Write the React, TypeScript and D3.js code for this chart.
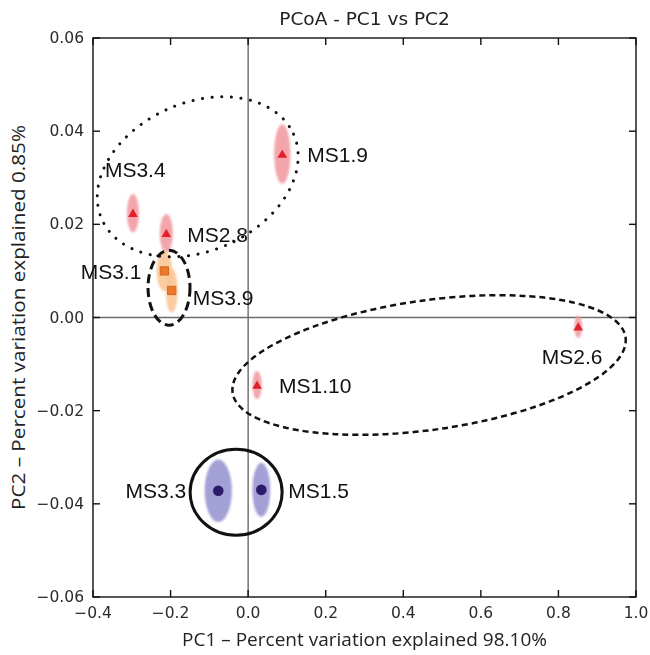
import * as d3 from "d3";

// sample scores on the first two principal coordinates
const samples = ["MS1.9", "MS3.4", "MS2.8", "MS3.1", "MS3.9", "MS2.6", "MS1.10", "MS3.3", "MS1.5"];
const pc1 = [0.088, -0.297, -0.211, -0.216, -0.197, 0.851, 0.023, -0.077, 0.034];
const pc2 = [0.0351, 0.0224, 0.0181, 0.01, 0.0058, -0.002, -0.0145, -0.0372, -0.037];
// marker group: 0 = triangle, 1 = square, 2 = circle
const groups = [0, 0, 0, 1, 1, 0, 0, 2, 2];
// jackknife spread along each axis
const spread1 = [0.021, 0.0155, 0.017, 0.02, 0.0155, 0.01, 0.012, 0.035, 0.023];
const spread2 = [0.0064, 0.0041, 0.0041, 0.0043, 0.0047, 0.0024, 0.003, 0.0067, 0.0058];

// hand drawn cluster outlines (centre in PC units, semi-axes in PC1 / PC2 units, tilt deg)
const outlineC1 = [-0.13, -0.204, 0.4665, -0.031];
const outlineC2 = [0.0302, 0.0064, -0.0102, -0.0375];
const outlineA = [0.2704, 0.0541, 0.5116, 0.1186];
const outlineB = [0.0159, 0.00805, 0.0139, 0.00923];
const outlineTilt = [-24, 0, -8, 0];

const xDomain = [-0.4, 1.0];
const yDomain = [-0.06, 0.06];

const title = "PCoA - PC1 vs PC2";
const xTitle = "PC1 \u2013 Percent variation explained 98.10%";
const yTitle = "PC2 \u2013 Percent variation explained 0.85%";

export default function App() {
  const width = 650;
  const height = 655;
  const left = 93, right = 636, top = 38, bottom = 597;

  const x = d3.scaleLinear().domain(xDomain).range([left, right]);
  const y = d3.scaleLinear().domain(yDomain).range([bottom, top]);
  const kx = (right - left) / (xDomain[1] - xDomain[0]);
  const ky = (bottom - top) / (yDomain[1] - yDomain[0]);

  const xTicks = x.ticks(7);
  const yTicks = y.ticks(6);
  const fx = d3.format(".1f");
  const fy = d3.format(".2f");

  const ellFill = ["#f19ca3", "#f8c594", "#9896d0"];
  const markFill = ["#e2202c", "#ec7a2c", "#2c1b6c"];
  const symbols = [
    d3.symbol(d3.symbolTriangle, 40)(),
    d3.symbol(d3.symbolSquare, 68)(),
    d3.symbol(d3.symbolCircle, 88)(),
  ];

  const outlineStyle = [
    { dash: "0.1 9.5", w: 3, cap: "round" },
    { dash: "9 5", w: 3, cap: "butt" },
    { dash: "6 4", w: 2.5, cap: "butt" },
    { dash: "none", w: 3, cap: "butt" },
  ];

  // label placement: dx, dy (px) and anchor
  const labelPos: Record<string, [number, number, string]> = {
    "MS1.9": [25, 1, "start"],
    "MS3.4": [-28, -44, "start"],
    "MS2.8": [21, 1, "start"],
    "MS3.1": [-23, 1, "end"],
    "MS3.9": [21, 7, "start"],
    "MS2.6": [-6, 30, "middle"],
    "MS1.10": [22, 0, "start"],
    "MS3.3": [-32, 0, "end"],
    "MS1.5": [27, 1, "start"],
  };

  const tickFont = { fontFamily: "DejaVu Sans", fontSize: 15.5, fill: "#2a2a2a" };

  return (
    <div style={{ position: "absolute", left: 0, top: 0 }}>
      <svg width={width} height={height} style={{ display: "block", background: "#fff" }}>
        <defs>
          <filter id="soft" x="-50%" y="-50%" width="200%" height="200%">
            <feGaussianBlur stdDeviation="1.2" />
          </filter>
        </defs>

        {/* zero lines */}
        <line x1={x(0)} x2={x(0)} y1={top} y2={bottom} stroke="#6b6b6b" strokeWidth={1.4} />
        <line x1={left} x2={right} y1={y(0)} y2={y(0)} stroke="#6b6b6b" strokeWidth={1.4} />

        {/* spread ellipses */}
        <g filter="url(#soft)">
          {samples.map((s, i) => (
            <ellipse
              key={s}
              cx={x(pc1[i])}
              cy={y(pc2[i])}
              rx={spread1[i] * kx}
              ry={spread2[i] * ky}
              fill={ellFill[groups[i]]}
              opacity={0.9}
            />
          ))}
        </g>

        {/* markers */}
        {samples.map((s, i) => (
          <path
            key={s}
            d={symbols[groups[i]] as string}
            transform={`translate(${x(pc1[i])},${y(pc2[i]) + (groups[i] === 0 ? 1 : 0)})`}
            fill={markFill[groups[i]]}
            stroke={groups[i] === 1 ? "#d8661c" : "none"}
          />
        ))}

        {/* cluster outlines */}
        {outlineC1.map((c, i) => (
          <ellipse
            key={i}
            cx={0}
            cy={0}
            rx={outlineA[i] * kx}
            ry={outlineB[i] * ky}
            transform={`translate(${x(c)},${y(outlineC2[i])}) rotate(${outlineTilt[i]})`}
            fill="none"
            stroke="#111"
            strokeWidth={outlineStyle[i].w}
            strokeDasharray={outlineStyle[i].dash}
            strokeLinecap={outlineStyle[i].cap as any}
          />
        ))}

        {/* sample labels */}
        {samples.map((s, i) => {
          const [dx, dy, anchor] = labelPos[s];
          return (
            <text
              key={s}
              x={x(pc1[i]) + dx}
              y={y(pc2[i]) + dy}
              textAnchor={anchor as any}
              dominantBaseline="central"
              fontFamily="Liberation Sans, Arial, sans-serif"
              fontSize={21}
              fill="#111"
            >
              {s}
            </text>
          );
        })}

        {/* frame and inward ticks */}
        <rect x={left} y={top} width={right - left} height={bottom - top} fill="none" stroke="#111" strokeWidth={1.4} />
        {xTicks.map((t) => (
          <g key={"x" + t}>
            <line x1={x(t)} x2={x(t)} y1={bottom} y2={bottom - 7} stroke="#111" strokeWidth={1.4} />
            <line x1={x(t)} x2={x(t)} y1={top} y2={top + 7} stroke="#111" strokeWidth={1.4} />
            <text x={x(t)} y={bottom + 21} textAnchor="middle" {...tickFont}>
              {fx(t)}
            </text>
          </g>
        ))}
        {yTicks.map((t) => (
          <g key={"y" + t}>
            <line x1={left} x2={left + 7} y1={y(t)} y2={y(t)} stroke="#111" strokeWidth={1.4} />
            <line x1={right} x2={right - 7} y1={y(t)} y2={y(t)} stroke="#111" strokeWidth={1.4} />
            <text x={left - 9} y={y(t)} textAnchor="end" dominantBaseline="central" {...tickFont}>
              {fy(t)}
            </text>
          </g>
        ))}

        {/* titles */}
        <text x={(left + right) / 2} y={25} textAnchor="middle" fontFamily="DejaVu Sans" fontSize={18.5} fill="#222">
          {title}
        </text>
        <text
          x={(left + right) / 2}
          y={646}
          textAnchor="middle"
          fontFamily="Open Sans"
          fontSize={18}
          fontWeight={500}
          fill="#222"
          textLength={365}
          lengthAdjust="spacingAndGlyphs"
        >
          {xTitle}
        </text>
        <text
          transform={`translate(25,${(top + bottom) / 2}) rotate(-90)`}
          textAnchor="middle"
          fontFamily="Open Sans"
          fontSize={18}
          fontWeight={500}
          fill="#222"
          textLength={385}
          lengthAdjust="spacingAndGlyphs"
        >
          {yTitle}
        </text>
      </svg>
    </div>
  );
}
